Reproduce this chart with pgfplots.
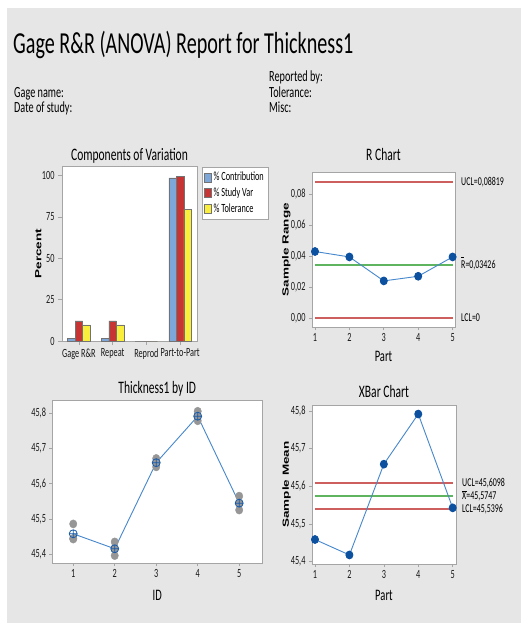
\documentclass[border=0pt]{standalone}
\usepackage{fontspec}
\setmainfont{Carlito}[FakeStretch=0.66]
\newfontfamily\ylfont{Liberation Sans}
\usepackage{pgfplots}
\pgfplotsset{compat=1.18}
\definecolor{bg}{RGB}{230,230,230}
\definecolor{axgray}{RGB}{165,165,165}
\definecolor{barblue}{RGB}{125,166,217}
\definecolor{barred}{RGB}{198,52,52}
\definecolor{baryel}{RGB}{250,238,60}
\definecolor{ctlred}{RGB}{205,95,95}
\definecolor{ctlgreen}{RGB}{95,180,95}
\definecolor{ptblue}{RGB}{12,80,160}
\definecolor{lnblue}{RGB}{70,135,205}
\definecolor{ptgray}{RGB}{150,150,150}
\newcommand{\fs}[1]{\fontsize{#1}{#1}\selectfont}
\tikzset{lbl/.style={anchor=base west, font=\fs{12}, yshift=-3.8pt, xshift=6pt, inner sep=0pt}}
\pgfplotsset{
  mystyle/.style={
    scale only axis,
    axis background/.style={fill=white},
    axis line style={axgray, line width=0.8pt},
    tick style={axgray, line width=0.6pt},
    tick align=outside,
    major tick length=3pt,
    tick label style={font=\fs{12.5}, text=black!90},
    xtick pos=bottom, ytick pos=left,
    scaled ticks=false,
    title style={font=\fs{17.5}, anchor=base},
    xlabel style={font=\fs{16}, at={(axis description cs:0.5,0)}, anchor=base},
    ylabel style={font=\ylfont\bfseries\fs{13.5}, anchor=center},
    /pgf/number format/use comma,
    /pgf/number format/assume math mode=true,
    clip=false,
  },
}
\begin{document}
\begin{tikzpicture}
\fill[white] (0pt,0pt) rectangle (526pt,-625pt);
\fill[bg] (7pt,-8pt) rectangle (521pt,-623pt);
% header
\node[anchor=base west, inner sep=0pt, font=\fs{30.5}] at (13pt,-53pt) {Gage R\&R (ANOVA) Report for Thickness1};
\node[anchor=base west, inner sep=0pt, font=\fs{15.5}] at (14pt,-97pt) {Gage name:};
\node[anchor=base west, inner sep=0pt, font=\fs{15.5}] at (14pt,-112pt) {Date of study:};
\node[anchor=base west, inner sep=0pt, font=\fs{15.5}] at (269pt,-81pt) {Reported by:};
\node[anchor=base west, inner sep=0pt, font=\fs{15.5}] at (269pt,-97pt) {Tolerance:};
\node[anchor=base west, inner sep=0pt, font=\fs{15.5}] at (269pt,-112pt) {Misc:};

% Components of Variation
\begin{axis}[mystyle, at={(62pt,-341pt)}, anchor=south west,
  width=135pt, height=175pt,
  ybar=0pt, bar width=7.5pt,
  xmin=-0.5, xmax=3.5, ymin=0, ymax=105.7,
  xtick={0,1,2,3}, xticklabels={Gage R\&R, Repeat, Reprod, Part-to-Part},
  ytick={0,25,50,75,100},
  major tick length=4pt,
  title={Components of Variation}, title style={at={(0.5,1)}, yshift=0pt},
  ylabel={\scalebox{1}[0.66]{Percent}}, ylabel style={at={(axis description cs:-0.175,0.5)}},
  legend style={at={(1.037,0.994)}, anchor=north west, draw=axgray, fill=white,
    font=\fs{12.5}, inner xsep=2pt, inner ysep=3pt, row sep=1.5pt, legend cell align=left},
  every axis plot post/.append style={legend image code/.code={\draw[##1] (0pt,-4.5pt) rectangle (7pt,4.5pt);}},
]
\addplot[fill=barblue, draw=black!55, line width=0.4pt] coordinates {(0,1.47) (1,1.47) (2,0.0) (3,98.53)};
\addplot[fill=barred, draw=black!55, line width=0.4pt] coordinates {(0,12.1) (1,12.1) (2,0.0) (3,99.26)};
\addplot[fill=baryel, draw=black!55, line width=0.4pt] coordinates {(0,9.7) (1,9.7) (2,0.0) (3,79.5)};
\legend{\% Contribution, \% Study Var, \% Tolerance}
\end{axis}

% R Chart
\begin{axis}[mystyle, at={(312pt,-327pt)}, anchor=south west,
  width=143pt, height=155pt,
  xmin=0.913, xmax=5.07, ymin=-0.0058, ymax=0.0944,
  xtick={1,2,3,4,5}, ytick={0,0.02,0.04,0.06,0.08},
  yticklabel style={/pgf/number format/fixed, /pgf/number format/fixed zerofill, /pgf/number format/precision=2},
  title={R Chart}, title style={at={(0.5,1)}, yshift=6pt},
  xlabel={Part}, xlabel style={yshift=-34pt},
  ylabel={\scalebox{1}[0.66]{Sample Range}}, ylabel style={at={(axis description cs:-0.18,0.5)}},
]
\addplot[ctlgreen, line width=1.8pt] coordinates {(1,0.03426) (5,0.03426)};
\addplot[ctlred, line width=1.8pt] coordinates {(1,0) (5,0)};
\addplot[ctlred, line width=1.8pt] coordinates {(1,0.08819) (5,0.08819)};
\addplot[lnblue, line width=0.9pt, mark=*, mark size=3.9pt, mark options={ptblue, fill=ptblue, xscale=0.9}] coordinates {(1,0.043) (2,0.0395) (3,0.024) (4,0.027) (5,0.0395)};
\node[lbl] at (axis cs:5.07,0.08819) {UCL=0,08819};
\node[lbl] at (axis cs:5.07,0.03426) {\rlap{\raisebox{11pt}{\rule{3pt}{0.6pt}}}R=0,03426};
\node[lbl] at (axis cs:5.07,0) {LCL=0};
\end{axis}

% Thickness1 by ID
\begin{axis}[mystyle, at={(52.5pt,-563pt)}, anchor=south west,
  width=209.5pt, height=163pt,
  xmin=0.5, xmax=5.55, ymin=45.375, ymax=45.838,
  xtick={1,2,3,4,5}, ytick={45.4,45.5,45.6,45.7,45.8},
  yticklabel style={/pgf/number format/fixed, /pgf/number format/fixed zerofill, /pgf/number format/precision=1},
  title={Thickness1 by ID}, title style={at={(0.5,1)}, yshift=1pt},
  xlabel={ID}, xlabel style={yshift=-37pt},
]
\addplot[only marks, mark=*, mark size=4.1pt, mark options={ptgray, fill=ptgray, xscale=0.9}] table {
x y
1 45.486
1 45.445
1 45.443
2 45.435
2 45.4155
2 45.396
3 45.672
3 45.660
3 45.648
4 45.806
4 45.791
4 45.779
5 45.565
5 45.545
5 45.5255
};
\addplot[lnblue, line width=0.9pt, mark=oplus, mark size=4pt, mark options={ptblue!80!lnblue, line width=0.8pt, fill=none}] coordinates {(1,45.458) (2,45.4155) (3,45.660) (4,45.792) (5,45.545)};
\end{axis}

% XBar Chart
\begin{axis}[mystyle, at={(312pt,-564pt)}, anchor=south west,
  width=144pt, height=159pt,
  xmin=0.913, xmax=5.096, ymin=45.394, ymax=45.816,
  xtick={1,2,3,4,5}, ytick={45.4,45.5,45.6,45.7,45.8},
  yticklabel style={/pgf/number format/fixed, /pgf/number format/fixed zerofill, /pgf/number format/precision=1},
  title={XBar Chart}, title style={at={(0.5,1)}, yshift=2pt},
  xlabel={Part}, xlabel style={yshift=-36pt},
  ylabel={\scalebox{1}[0.66]{Sample Mean}}, ylabel style={at={(axis description cs:-0.176,0.5)}},
]
\addplot[ctlgreen, line width=1.8pt] coordinates {(1,45.5747) (5,45.5747)};
\addplot[ctlred, line width=1.8pt] coordinates {(1,45.5396) (5,45.5396)};
\addplot[ctlred, line width=1.8pt] coordinates {(1,45.6098) (5,45.6098)};
\addplot[lnblue, line width=0.9pt, mark=*, mark size=3.9pt, mark options={ptblue, fill=ptblue, xscale=0.9}] coordinates {(1,45.459) (2,45.418) (3,45.659) (4,45.792) (5,45.543)};
\node[lbl] at (axis cs:5.096,45.6098) {UCL=45,6098};
\node[lbl] at (axis cs:5.096,45.5747) {\rlap{\raisebox{8.5pt}{\rule{4.5pt}{0.5pt}}}X=45,5747};
\node[lbl] at (axis cs:5.096,45.5396) {LCL=45,5396};
\end{axis}
\pgfresetboundingbox
\useasboundingbox (0pt,0pt) rectangle (526pt,-625pt);
\end{tikzpicture}
\end{document}
